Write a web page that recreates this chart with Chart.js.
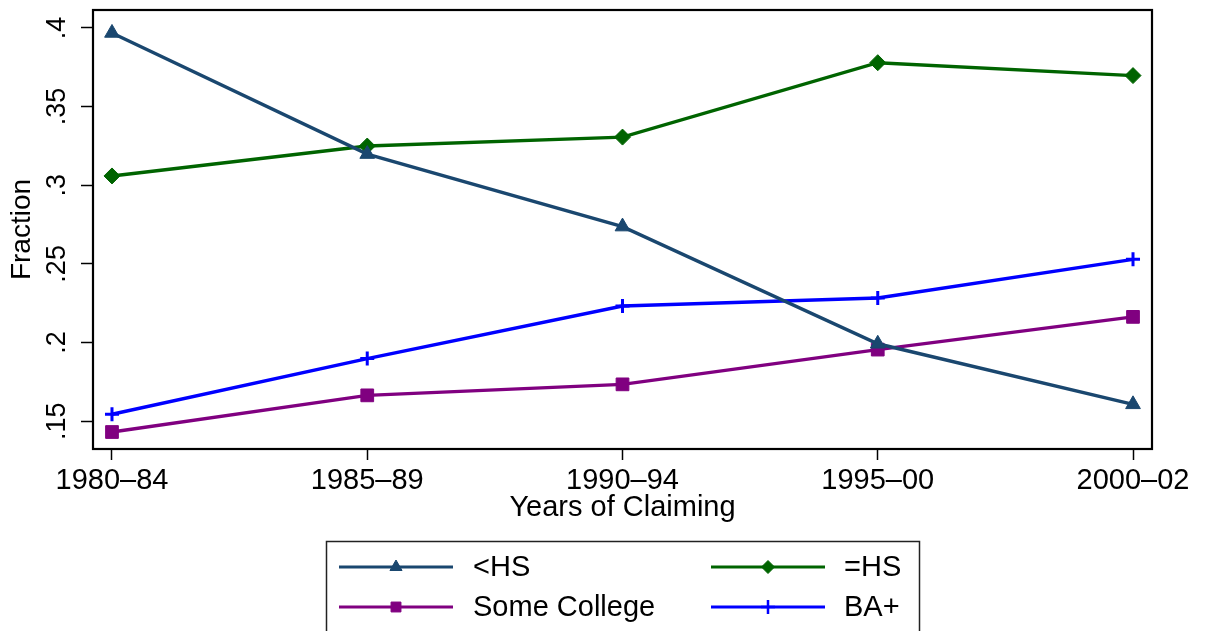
<!DOCTYPE html>
<html>
<head>
<meta charset="utf-8">
<script src="https://cdn.jsdelivr.net/npm/chart.js@4.4.0/dist/chart.umd.min.js"></script>
<style>
  html, body { margin: 0; padding: 0; background: #fff; }
  #wrap { position: relative; width: 1206px; height: 631px; }
</style>
</head>
<body>
<div id="wrap"><canvas id="fractionChart"></canvas></div>
<script>
// data
const periods = ["1980\u201384", "1985\u201389", "1990\u201394", "1995\u201300", "2000\u201302"];
const lessHS = [0.3968, 0.3198, 0.2737, 0.1992, 0.1607];
const eqHS = [0.3059, 0.3249, 0.3306, 0.3779, 0.3697];
const someCollege = [0.1431, 0.1664, 0.1734, 0.1955, 0.2163];
const baPlus = [0.1544, 0.1898, 0.2232, 0.2283, 0.2529];
const yTicks = [0.15, 0.2, 0.25, 0.3, 0.35, 0.4];
const yTickLabels = [".15", ".2", ".25", ".3", ".35", ".4"];

const FONT = "'Liberation Sans', Arial, Helvetica, sans-serif";
Chart.defaults.font.family = FONT;
Chart.defaults.color = "#000";

function series(label, values, color, style, radius) {
  return {
    label: label,
    data: values.map((v, i) => ({ x: i, y: v })),
    borderColor: color,
    backgroundColor: color,
    borderWidth: 3.4,
    tension: 0,
    pointStyle: style,
    pointRadius: radius,
    pointHoverRadius: radius,
    pointBackgroundColor: color,
    pointBorderColor: color,
    pointBorderWidth: style === "cross" ? 3 : 1,
  };
}

const datasets = [
  series("<HS", lessHS, "#1a476f", "triangle", 8.5),
  series("=HS", eqHS, "#006400", "rectRot", 8),
  series("Some College", someCollege, "#800080", "rect", 9),
  series("BA+", baPlus, "#0000ff", "cross", 7),
];

// plot frame + Stata-style legend box under the axis
const framePlugin = {
  id: "frame",
  beforeDatasetsDraw(chart) {
    const { ctx, chartArea: a } = chart;
    ctx.save();
    ctx.strokeStyle = "#000";
    ctx.lineWidth = 2.2;
    ctx.strokeRect(a.left, a.top, a.right - a.left, a.bottom - a.top);
    ctx.restore();
  },
  afterDraw(chart) {
    const ctx = chart.ctx;
    ctx.save();
    ctx.strokeStyle = "#222";
    ctx.lineWidth = 1.5;
    ctx.strokeRect(326.5, 541.5, 593, 120);
    const cols = [{ x0: 339, x1: 453, tx: 473 }, { x0: 711, x1: 825, tx: 844 }];
    const rows = [567, 607];
    const legendSizes = [7, 6.5, 7, 7];
    chart.data.datasets.forEach((ds, i) => {
      const c = cols[i % 2], y = rows[Math.floor(i / 2)];
      ctx.strokeStyle = ds.borderColor;
      ctx.fillStyle = ds.borderColor;
      ctx.lineWidth = 3.2;
      ctx.beginPath();
      ctx.moveTo(c.x0, y);
      ctx.lineTo(c.x1, y);
      ctx.stroke();
      ctx.lineWidth = ds.pointStyle === "cross" ? 2.5 : 1;
      Chart.helpers.drawPoint(ctx, { pointStyle: ds.pointStyle, radius: legendSizes[i], rotation: 0, borderWidth: ctx.lineWidth },
        (c.x0 + c.x1) / 2, y);
      ctx.fillStyle = "#000";
      ctx.font = "29px " + FONT;
      ctx.textBaseline = "middle";
      ctx.textAlign = "left";
      ctx.fillText(ds.label, c.tx, y + 1);
    });
    ctx.restore();
  },
};

new Chart(document.getElementById("fractionChart"), {
  type: "line",
  data: { datasets: datasets },
  plugins: [framePlugin],
  options: {
    responsive: true,
    maintainAspectRatio: false,
    animation: false,
    layout: { padding: { top: 7, right: 54, bottom: 100, left: 0 } },
    plugins: { legend: { display: false }, tooltip: { enabled: false } },
    scales: {
      x: {
        type: "linear",
        min: -0.0744,
        max: 4.0744,
        afterBuildTicks: s => { s.ticks = periods.map((p, i) => ({ value: i })); },
        afterFit: s => { s.height = 82; },
        ticks: {
          callback: (v, i) => periods[i],
          font: { size: 29 },
          color: "#000",
          padding: 4,
          maxRotation: 0,
          autoSkip: false,
        },
        grid: { drawOnChartArea: false, tickLength: 11, tickWidth: 1.5, tickColor: "#000" },
        border: { display: false },
        title: { display: true, text: "Years of Claiming", font: { size: 29 }, color: "#000", padding: { top: 0, bottom: 5.6 } },
      },
      y: {
        type: "linear",
        min: 0.1323,
        max: 0.4114,
        afterBuildTicks: s => { s.ticks = yTicks.map(v => ({ value: v })); },
        afterFit: s => { s.width = 93; s.paddingTop = 0; s.paddingBottom = 0; },
        ticks: {
          callback: (v, i) => yTickLabels[i],
          font: { size: 27 },
          color: "#000",
          minRotation: 90,
          maxRotation: 90,
          crossAlign: "center",
          padding: 4.7,
        },
        grid: { drawOnChartArea: false, tickLength: 12, tickWidth: 1.5, tickColor: "#000" },
        border: { display: false },
        title: { display: true, text: "Fraction", font: { size: 28 }, color: "#000", padding: { top: 5.6, bottom: 0 } },
      },
    },
  },
});
</script>
</body>
</html>
